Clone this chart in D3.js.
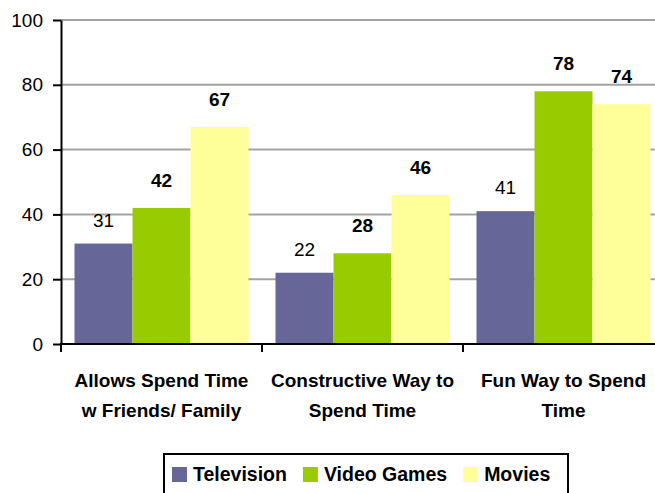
<!DOCTYPE html>
<html>
<head>
<meta charset="utf-8">
<script src="https://cdn.jsdelivr.net/npm/d3@7"></script>
<style>
  html, body { margin: 0; padding: 0; background: #fff; }
  svg { display: block; font-family: "Liberation Sans", Arial, sans-serif; }
</style>
</head>
<body>
<svg id="chart" width="655" height="493"></svg>
<script>
// Survey results: share of respondents (%) per statement and medium
const categories = [
  ["Allows Spend Time", "w Friends/ Family"],
  ["Constructive Way to", "Spend Time"],
  ["Fun Way to Spend", "Time"]
];
const seriesNames = ["Television", "Video Games", "Movies"];
const television = [31, 22, 41];
const videoGames = [42, 28, 78];
const movies = [67, 46, 74];
const yTicks = [0, 20, 40, 60, 80, 100];
const colors = ["#666699", "#99cc00", "#ffff99"];

const seriesValues = [television, videoGames, movies];
const catKeys = categories.map((c, i) => i);

const svg = d3.select("#chart");
const W = 655;
const plotLeft = 61, plotTop = 20, plotBottom = 344;
const bandRight = 664;

const y = d3.scaleLinear().domain([0, 100]).range([plotBottom, plotTop]);
const x0 = d3.scaleBand().domain(catKeys).range([plotLeft, bandRight]).paddingInner(0).paddingOuter(0);
const x1 = d3.scaleBand().domain(seriesNames)
  .range([13.5, x0.bandwidth() - 13.5]).padding(0);

// horizontal gridlines
svg.append("g")
  .selectAll("line")
  .data(yTicks.filter(t => t > 0))
  .join("line")
  .attr("x1", plotLeft).attr("x2", W)
  .attr("y1", d => y(d)).attr("y2", d => y(d))
  .attr("stroke", "#a3a3a3")
  .attr("stroke-width", 2);

// bars
const groups = svg.append("g")
  .selectAll("g")
  .data(catKeys)
  .join("g")
  .attr("transform", d => `translate(${x0(d)},0)`);

groups.selectAll("rect")
  .data(ci => seriesNames.map((s, si) => ({ s, si, v: seriesValues[si][ci] })))
  .join("rect")
  .attr("x", d => x1(d.s))
  .attr("width", x1.bandwidth())
  .attr("y", d => y(d.v))
  .attr("height", d => y(0) - y(d.v))
  .attr("fill", d => colors[d.si]);

// value labels
groups.selectAll("text")
  .data(ci => seriesNames.map((s, si) => ({ s, si, v: seriesValues[si][ci] })))
  .join("text")
  .attr("x", d => x1(d.s) + x1.bandwidth() / 2)
  .attr("y", d => y(d.v) - (d.si === 0 ? 17 : 21))
  .attr("text-anchor", "middle")
  .attr("font-size", 19)
  .attr("font-weight", d => d.si === 0 ? "normal" : "bold")
  .attr("fill", "#000")
  .text(d => d.v);

// y axis
const yAxis = svg.append("g")
  .attr("transform", `translate(${plotLeft},0)`)
  .call(d3.axisLeft(y).tickValues(yTicks).tickSize(8).tickPadding(10).tickSizeOuter(0));
yAxis.select(".domain").attr("stroke", "#000").attr("stroke-width", 2);
yAxis.selectAll(".tick line").attr("stroke", "#000").attr("stroke-width", 2);
yAxis.selectAll(".tick text")
  .attr("font-size", 19)
  .attr("font-family", "Liberation Sans, Arial, sans-serif")
  .attr("fill", "#000");

// x axis baseline and category separators
svg.append("line")
  .attr("x1", plotLeft - 1).attr("x2", W)
  .attr("y1", y(0)).attr("y2", y(0))
  .attr("stroke", "#000").attr("stroke-width", 2);
svg.append("g")
  .selectAll("line")
  .data(catKeys)
  .join("line")
  .attr("x1", d => x0(d)).attr("x2", d => x0(d))
  .attr("y1", y(0)).attr("y2", y(0) + 8)
  .attr("stroke", "#000").attr("stroke-width", 2);

// category labels (two lines)
const catLabels = svg.append("g")
  .selectAll("text")
  .data(catKeys)
  .join("text")
  .attr("text-anchor", "middle")
  .attr("font-size", 19)
  .attr("font-weight", "bold")
  .attr("fill", "#000");
catLabels.selectAll("tspan")
  .data(ci => categories[ci].map(line => ({ ci, line })))
  .join("tspan")
  .attr("x", d => x0(d.ci) + x0.bandwidth() / 2)
  .attr("y", (d, i) => 387 + i * 30)
  .text(d => d.line);

// legend
const legend = svg.append("g");
legend.append("rect")
  .attr("x", 164).attr("y", 454)
  .attr("width", 404).attr("height", 50)
  .attr("fill", "#fff")
  .attr("stroke", "#000").attr("stroke-width", 2);

let lx = 172;
seriesNames.forEach((name, i) => {
  legend.append("rect")
    .attr("x", lx).attr("y", 467)
    .attr("width", 15).attr("height", 15)
    .attr("fill", colors[i]);
  const t = legend.append("text")
    .attr("x", lx + 21).attr("y", 481)
    .attr("font-size", 19.5)
    .attr("font-weight", "bold")
    .attr("fill", "#000")
    .text(name);
  lx += 21 + t.node().getComputedTextLength() + 16;
});
</script>
</body>
</html>
